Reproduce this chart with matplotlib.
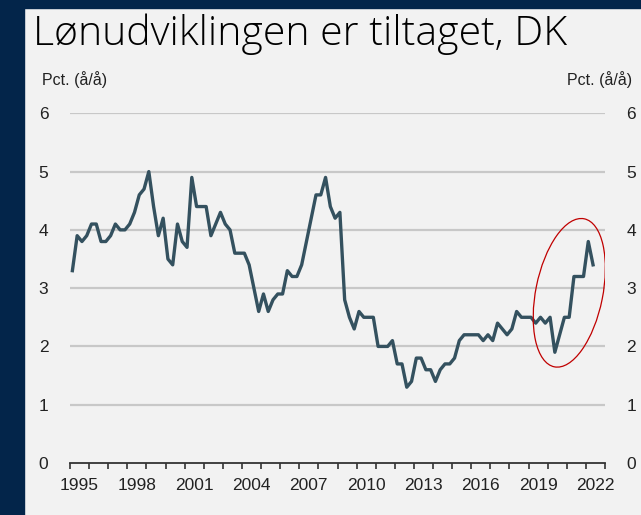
import pandas as pd
import matplotlib.pyplot as plt
from matplotlib.patches import Ellipse, Rectangle
from matplotlib.transforms import ScaledTranslation

# lønstigning, pct. år/år, kvartalsvis 1995K1 - 2022K2
kvartaler = pd.period_range("1995Q1", "2022Q2", freq="Q")
loenvaekst = [
    3.3, 3.9, 3.8, 3.9,
    4.1, 4.1, 3.8, 3.8,
    3.9, 4.1, 4.0, 4.0,
    4.1, 4.3, 4.6, 4.7,
    5.0, 4.4, 3.9, 4.2,
    3.5, 3.4, 4.1, 3.8,
    3.7, 4.9, 4.4, 4.4,
    4.4, 3.9, 4.1, 4.3,
    4.1, 4.0, 3.6, 3.6,
    3.6, 3.4, 3.0, 2.6,
    2.9, 2.6, 2.8, 2.9,
    2.9, 3.3, 3.2, 3.2,
    3.4, 3.8, 4.2, 4.6,
    4.6, 4.9, 4.4, 4.2,
    4.3, 2.8, 2.5, 2.3,
    2.6, 2.5, 2.5, 2.5,
    2.0, 2.0, 2.0, 2.1,
    1.7, 1.7, 1.3, 1.4,
    1.8, 1.8, 1.6, 1.6,
    1.4, 1.6, 1.7, 1.7,
    1.8, 2.1, 2.2, 2.2,
    2.2, 2.2, 2.1, 2.2,
    2.1, 2.4, 2.3, 2.2,
    2.3, 2.6, 2.5, 2.5,
    2.5, 2.4, 2.5, 2.4,
    2.5, 1.9, 2.2, 2.5,
    2.5, 3.2, 3.2, 3.2,
    3.8, 3.4,
]
aar_labels = list(range(1995, 2023, 3))
y_ticks = [0, 1, 2, 3, 4, 5, 6]

navy = "#03254a"
baggrund = "#f2f2f2"
linjefarve = "#34515f"
tekst = "#222222"

x = [p.year + (p.quarter - 0.5) / 4 for p in kvartaler]

fig = plt.figure(figsize=(6.41, 5.15), dpi=100, facecolor=baggrund)
fig.patches.append(Rectangle((0, 0), 24 / 641, 1, transform=fig.transFigure,
                             color=navy, zorder=0))
fig.patches.append(Rectangle((0, 1 - 8 / 515), 1, 8 / 515, transform=fig.transFigure,
                             color=navy, zorder=0))

fig.text(33 / 641, 1 - 34 / 515, "Lønudviklingen er tiltaget, DK",
         family="Open Sans", weight="light", fontsize=29.5, color="black", va="center")

ax = fig.add_axes([70 / 641, 1 - 463 / 515, 535 / 641, 349.7 / 515])
ax.set_facecolor("none")

for v in y_ticks[1:]:
    ax.axhline(v, color="#c8c8c8", lw=1.6, zorder=1)

ax.plot(x, loenvaekst, color=linjefarve, lw=2.4, zorder=3)

ax.set_xlim(1995, 2023)
ax.set_ylim(0, 6)
for s in ["top", "left", "right"]:
    ax.spines[s].set_visible(False)
ax.spines["bottom"].set_color("#333333")
ax.spines["bottom"].set_linewidth(1.3)

ax.set_xticks(range(1995, 2024))
ax.set_xticklabels([])
ax.tick_params(axis="x", which="major", direction="out", length=4, width=1.2, color="#333333")
ax.set_xticks([a + 0.5 for a in aar_labels], minor=True)
ax.set_xticklabels([str(a) for a in aar_labels], minor=True)
ax.tick_params(axis="x", which="minor", length=0, pad=11, labelsize=12.5, labelcolor=tekst)

ax.set_yticks(y_ticks)
ax.set_yticklabels([str(v) for v in y_ticks])
ax.tick_params(axis="y", left=False, right=False, labelleft=True, labelright=True,
               pad=12, labelsize=12.5, labelcolor=tekst)
for lbl in ax.get_xticklabels(minor=True) + ax.get_yticklabels():
    lbl.set_family("Liberation Sans")

fig.text(42 / 641, 1 - 80 / 515, "Pct. (å/å)", family="Liberation Sans",
         fontsize=11.5, color=tekst, ha="left", va="center")
fig.text(632 / 641, 1 - 80 / 515, "Pct. (å/å)", family="Liberation Sans",
         fontsize=11.5, color=tekst, ha="right", va="center")

# rød ring om de seneste kvartaler
ring = Ellipse((0, 0), 0.67, 1.51, angle=-11.4, fill=False, edgecolor="#c00000", lw=0.9,
               transform=fig.dpi_scale_trans + ScaledTranslation(2021.13, 2.92, ax.transData),
               zorder=4)
ax.add_patch(ring)

plt.savefig("out.png", dpi=100, facecolor=baggrund)
